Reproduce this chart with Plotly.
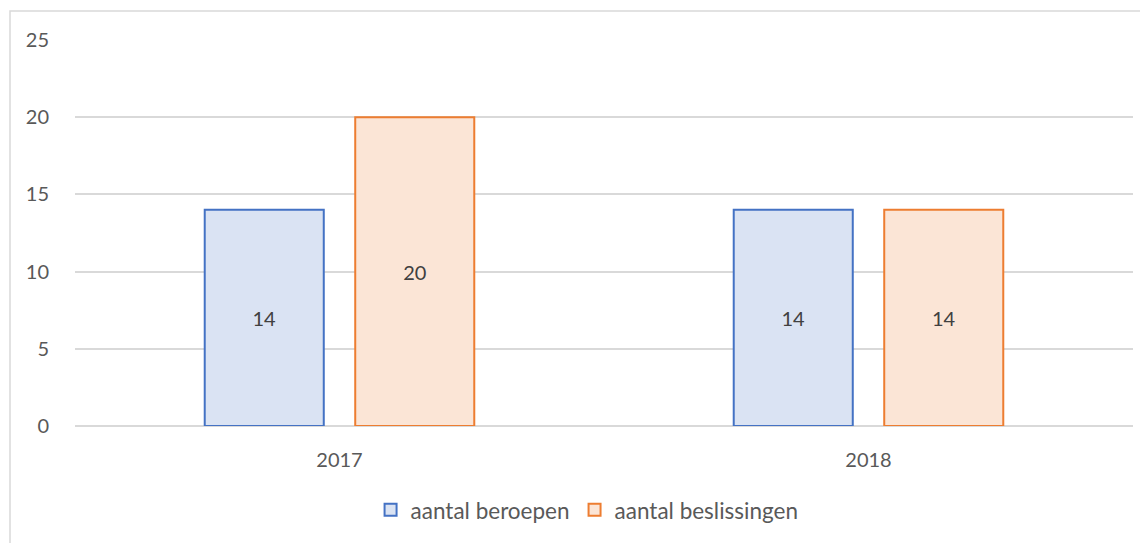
import plotly.graph_objects as go

years = ["2017", "2018"]
beroepen = [14, 14]
beslissingen = [20, 14]
y_ticks = [0, 5, 10, 15, 20, 25]

# page has an 8px body margin, so the figure is laid out 8px in from the window edge
W, H = 1140, 535
L, R, T, B = 67, 15, 32, 117
pw = W - L - R
ph = H - T - B

fig = go.Figure()
fig.add_trace(go.Bar(
    x=years, y=beroepen, name="aantal beroepen",
    marker=dict(color="#DAE3F3", line=dict(color="#4472C4", width=2)),
    text=beroepen, textposition="inside", insidetextanchor="middle",
    textfont=dict(color="#404040", size=20),
))
fig.add_trace(go.Bar(
    x=years, y=beslissingen, name="aantal beslissingen",
    marker=dict(color="#FBE5D6", line=dict(color="#ED7D31", width=2)),
    text=beslissingen, textposition="inside", insidetextanchor="middle",
    textfont=dict(color="#404040", size=20),
))

fig.update_layout(
    width=W, height=H,
    margin=dict(l=L, r=R, t=T, b=B, autoexpand=False),
    paper_bgcolor="white", plot_bgcolor="white",
    font=dict(family="Lato, Open Sans, sans-serif", color="#595959", size=20),
    barmode="group", bargap=0.431, bargroupgap=0.209,
    showlegend=True,
    legend=dict(orientation="h", x=0.484, xanchor="center", y=-0.218, yanchor="middle",
                font=dict(size=22.5, color="#595959")),
    xaxis=dict(showgrid=False, showline=False, ticks="", ticklabelstandoff=20,
               automargin=False),
    yaxis=dict(range=[0, 25], tickvals=y_ticks, showgrid=True, gridcolor="#D9D9D9",
               gridwidth=1.5, zeroline=True, zerolinecolor="#D9D9D9", zerolinewidth=1.5,
               showline=False, ticks="", ticklabelstandoff=25, automargin=False),
    uniformtext=dict(mode=False),
)

fig.add_shape(type="rect", xref="paper", yref="paper",
              x0=(2 - L) / pw, x1=1.2, y0=-0.6, y1=(H - B - 3) / ph,
              line=dict(color="#D9D9D9", width=1.5), fillcolor="rgba(0,0,0,0)", layer="below")

fig.write_html("out.html")
